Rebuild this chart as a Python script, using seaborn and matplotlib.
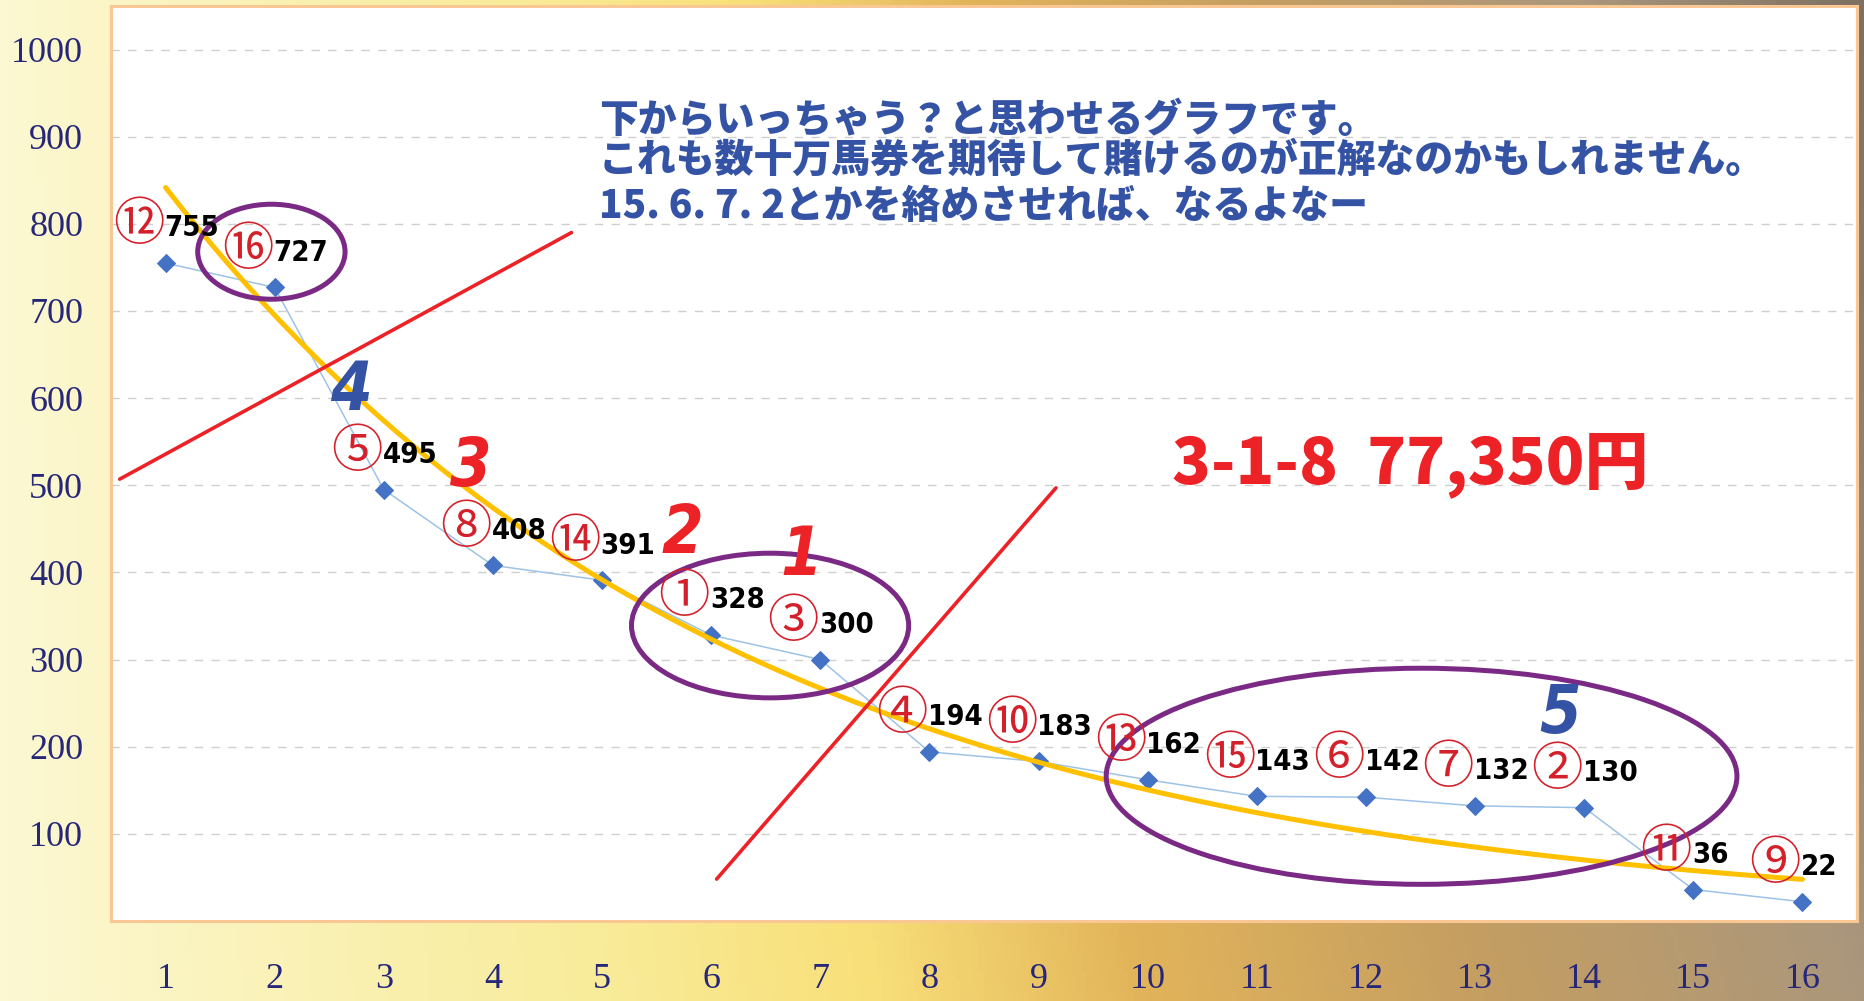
import numpy as np
import pandas as pd
import seaborn as sns
import matplotlib.pyplot as plt
from matplotlib import font_manager
from matplotlib.patches import Ellipse
from matplotlib.colors import LinearSegmentedColormap

# odds ranking (1..16), odds value, horse number
ranks = list(range(1, 17))
odds = [755, 727, 495, 408, 391, 328, 300, 194, 183, 162, 143, 142, 132, 130, 36, 22]
horses = [12, 16, 5, 8, 14, 1, 3, 4, 10, 13, 15, 6, 7, 2, 11, 9]
circled = ['①', '②', '③', '④', '⑤', '⑥', '⑦', '⑧', '⑨', '⑩', '⑪', '⑫', '⑬', '⑭', '⑮', '⑯']
yticks = [100, 200, 300, 400, 500, 600, 700, 800, 900, 1000]

comment_lines = ['下からいっちゃう？と思わせるグラフです。',
                 'これも数十万馬券を期待して賭けるのが正解なのかもしれません。',
                 '15. 6. 7. 2とかを絡めさせれば、なるよなー']
result_text = '3-1-8  77,350円'

df = pd.DataFrame({'rank': ranks, 'odds': odds})

sns.set_theme(style='white')
plt.rcParams['font.family'] = ['Noto Sans CJK JP', 'DejaVu Sans']

# narrow font for the numbers if there is one
names = {f.name for f in font_manager.fontManager.ttflist}
if 'Liberation Sans Narrow' in names:
    num_font, num_size = 'Liberation Sans Narrow', 23
else:
    num_font, num_size = 'DejaVu Sans', 21

fig = plt.figure(figsize=(18.65, 10.01), dpi=100)

# background gradient
bg = fig.add_axes([0, 0, 1, 1], zorder=-5)
cmap = LinearSegmentedColormap.from_list('bg', [
    (0.0, '#fcf8d2'), (0.28, '#f8eb98'), (0.4, '#f8df78'), (0.52, '#e2b45a'),
    (0.68, '#c49e62'), (0.85, '#ab977c'), (1.0, '#7e7162')])
gx = np.linspace(0, 1, 400)
gy = np.linspace(0, 1, 100)
grad = gx[None, :] * (0.85 + 0.15 * gy[:, None])
bg.imshow(grad, cmap=cmap, aspect='auto', extent=[0, 1, 0, 1], origin='lower', vmin=0, vmax=1)
bg.axis('off')

ax = fig.add_axes([0.0595, 0.080, 0.9362, 0.914])
ax.set_facecolor('white')

sns.lineplot(data=df, x='rank', y='odds', ax=ax, color='#9dc3e6', linewidth=1.1,
             marker='D', markersize=9, markerfacecolor='#4472c4', markeredgecolor='#4472c4')

# exponential trendline
coef = np.polyfit(ranks, np.log(odds), 1)
xs = np.linspace(1, 16, 200)
ax.plot(xs, np.exp(np.polyval(coef, xs)), color='#ffc000', linewidth=3.6, zorder=3)

# red slash lines
ax.plot([0.58, 4.72], [507, 790], color='#ec2227', linewidth=2.6, zorder=4)
ax.plot([6.05, 9.16], [48, 497], color='#ec2227', linewidth=2.6, zorder=4)

# ellipses
for cx, cy, w, h in [(1.97, 768, 1.35, 109), (6.54, 339, 2.54, 166), (12.51, 166, 5.78, 248)]:
    ax.add_patch(Ellipse((cx, cy), w, h, fill=False, edgecolor='#7a2a85', linewidth=3.6, zorder=5))

# point labels
for r, v, h in zip(ranks, odds, horses):
    ax.annotate(circled[h - 1], (r, v), xytext=(-1, 27), textcoords='offset points',
                ha='right', va='center', color='#d4202a', fontsize=37,
                family=['Noto Sans CJK JP', 'DejaVu Sans'], zorder=6)
    ax.annotate(str(v), (r, v), xytext=(-1, 25), textcoords='offset points',
                ha='left', va='center', color='black', fontsize=num_size, fontweight='bold',
                family=[num_font, 'DejaVu Sans'], fontstretch='condensed', zorder=6)

# big handwritten-like numbers
for t, x, y, c in [('3', 3.80, 521, '#ec2227'), ('2', 5.74, 444, '#ec2227'),
                   ('1', 6.83, 419, '#ec2227'), ('4', 2.70, 608, '#3553a5'),
                   ('5', 13.78, 237, '#3553a5')]:
    ax.text(x, y, t, color=c, fontsize=48, fontweight='bold', style='italic',
            family=[num_font, 'DejaVu Sans'], fontstretch='condensed',
            ha='center', va='center', zorder=6)

for line, y in zip(comment_lines, [919, 873, 820]):
    ax.text(4.97, y, line, color='#3553a5', fontsize=28, fontweight='heavy',
            ha='left', va='center', zorder=6)

ax.text(10.22, 523, result_text, color='#ec2227', fontsize=46, fontweight='black',
        ha='left', va='center', zorder=6)

ax.set_xlim(0.5, 16.5)
ax.set_ylim(0, 1050)
ax.set_xticks(ranks)
ax.set_yticks(yticks)
ax.set_xlabel('')
ax.set_ylabel('')
ax.yaxis.grid(True, linestyle=(0, (6, 6)), color='#cfcfcf', linewidth=1)
ax.xaxis.grid(False)
ax.tick_params(axis='y', length=0, pad=20)
ax.tick_params(axis='x', length=0, pad=30)
for lab in ax.get_xticklabels() + ax.get_yticklabels():
    lab.set_family(['Liberation Serif', 'DejaVu Serif'])
    lab.set_fontsize(26)
    lab.set_color('#27277a')
for s in ax.spines.values():
    s.set_visible(True)
    s.set_color('#f8c793')
    s.set_linewidth(2.2)

fig.savefig('out.png', dpi=100)
